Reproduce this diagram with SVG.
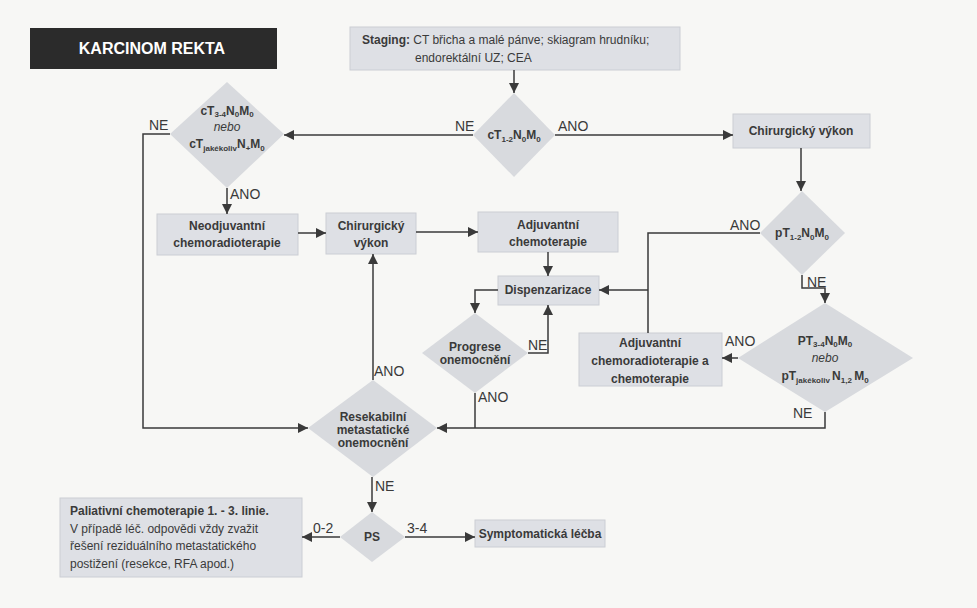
<svg xmlns="http://www.w3.org/2000/svg" width="977" height="608" viewBox="0 0 977 608">
<defs>
<marker id="ah" markerUnits="userSpaceOnUse" markerWidth="10" markerHeight="10" refX="10" refY="5" orient="auto">
<path d="M0,0 L10,5 L0,10 z" fill="#3a3a3a"/>
</marker>
<style>
.box{fill:#dee0e5;stroke:#cbced4;stroke-width:1}
.dia{fill:#d8dade}
.t{font-family:"Liberation Sans",Arial,sans-serif;font-size:12px;font-weight:bold;fill:#3a3a3a;text-anchor:middle}
.r{font-family:"Liberation Sans",Arial,sans-serif;font-size:12px;fill:#3a3a3a}
.lbl{font-family:"Liberation Sans",Arial,sans-serif;font-size:14px;fill:#3a3a3a}
.s{font-size:8px}
.i{font-style:italic;font-weight:normal}
.c{fill:none;stroke:#3a3a3a;stroke-width:1.5}
</style>
</defs>
<rect width="977" height="608" fill="#f7f7f5"/>

<g id="title">
<rect x="30" y="28" width="247" height="41" fill="#2b2b2b"/>
<text x="152" y="54" font-family="Liberation Sans,Arial,sans-serif" font-size="16" font-weight="bold" fill="#ffffff" text-anchor="middle">KARCINOM REKTA</text>
</g>

<g id="staging">
<rect class="box" x="350" y="27" width="330" height="43"/>
<text class="r" x="362" y="44"><tspan font-weight="bold">Staging:</tspan> CT břicha a malé pánve; skiagram hrudníku;</text>
<text class="r" x="415" y="62">endorektální UZ; CEA</text>
</g>

<g id="d_ct12">
<polygon class="dia" points="514,93 555,135 514,177 473,135"/>
<text class="t" x="514" y="139">cT<tspan class="s" dy="3">1-2</tspan><tspan dy="-3">N</tspan><tspan class="s" dy="3">0</tspan><tspan dy="-3">M</tspan><tspan class="s" dy="3">0</tspan></text>
</g>

<g id="d_ct34">
<polygon class="dia" points="227,82 284,134 227,188 170,134"/>
<text class="t" x="227" y="115">cT<tspan class="s" dy="2">3-4</tspan><tspan dy="-2">N</tspan><tspan class="s" dy="2">0</tspan><tspan dy="-2">M</tspan><tspan class="s" dy="2">0</tspan></text>
<text class="t i" x="227" y="131">nebo</text>
<text class="t" x="227" y="148">cT<tspan class="s" dy="3">jakékoliv</tspan><tspan dy="-3">N</tspan><tspan class="s" dy="3">+</tspan><tspan dy="-3">M</tspan><tspan class="s" dy="3">0</tspan></text>
</g>

<g id="chir1">
<rect class="box" x="733" y="114" width="137" height="34"/>
<text class="t" x="801" y="135">Chirurgický výkon</text>
</g>

<g id="neo">
<rect class="box" x="157" y="214" width="141" height="41"/>
<text class="t" x="227" y="230">Neodjuvantní</text>
<text class="t" x="227" y="247">chemoradioterapie</text>
</g>

<g id="chir2">
<rect class="box" x="326" y="213" width="90" height="41"/>
<text class="t" x="371" y="230">Chirurgický</text>
<text class="t" x="371" y="247">výkon</text>
</g>

<g id="adj">
<rect class="box" x="478" y="212" width="140" height="40"/>
<text class="t" x="548" y="229">Adjuvantní</text>
<text class="t" x="548" y="246">chemoterapie</text>
</g>

<g id="d_pt12">
<polygon class="dia" points="802,191 845,233 802,275 760,233"/>
<text class="t" x="802" y="237">pT<tspan class="s" dy="3">1-2</tspan><tspan dy="-3">N</tspan><tspan class="s" dy="3">0</tspan><tspan dy="-3">M</tspan><tspan class="s" dy="3">0</tspan></text>
</g>

<g id="disp">
<rect class="box" x="498" y="276" width="101" height="29"/>
<text class="t" x="548" y="294">Dispenzarizace</text>
</g>

<g id="d_prog">
<polygon class="dia" points="475,313 528,353 475,393 422,353"/>
<text class="t" x="475" y="351">Progrese</text>
<text class="t" x="475" y="364">onemocnění</text>
</g>

<g id="adjcrt">
<rect class="box" x="579" y="333" width="143" height="53"/>
<text class="t" x="650" y="347">Adjuvantní</text>
<text class="t" x="650" y="365">chemoradioterapie a</text>
<text class="t" x="650" y="383">chemoterapie</text>
</g>

<g id="d_pt34">
<polygon class="dia" points="825,303 913,358 825,412 738,358"/>
<text class="t" x="825" y="345">PT<tspan class="s" dy="2">3-4</tspan><tspan dy="-2">N</tspan><tspan class="s" dy="2">0</tspan><tspan dy="-2">M</tspan><tspan class="s" dy="2">0</tspan></text>
<text class="t i" x="825" y="362">nebo</text>
<text class="t" x="825" y="380">pT<tspan class="s" dy="3">jakékoliv </tspan><tspan dy="-3">N</tspan><tspan class="s" dy="3">1,2 </tspan><tspan dy="-3">M</tspan><tspan class="s" dy="3">0</tspan></text>
</g>

<g id="d_resek">
<polygon class="dia" points="373,380 437,428 373,477 308,428"/>
<text class="t" x="373" y="421">Resekabilní</text>
<text class="t" x="373" y="434">metastatické</text>
<text class="t" x="373" y="447">onemocnění</text>
</g>

<g id="d_ps">
<polygon class="dia" points="372,512 405,537 372,562 340,537"/>
<text class="t" x="372" y="541" font-weight="normal">PS</text>
</g>

<g id="pal">
<rect class="box" x="60" y="498" width="242" height="79"/>
<text class="r" x="70" y="515" font-weight="bold">Paliativní chemoterapie 1. - 3. linie.</text>
<text class="r" x="70" y="533">V případě léč. odpovědi vždy zvažit</text>
<text class="r" x="70" y="550">řešení reziduálního metastatického</text>
<text class="r" x="70" y="568">postižení (resekce, RFA apod.)</text>
</g>

<g id="sympt">
<rect class="box" x="475" y="520" width="130" height="27"/>
<text class="t" x="540" y="538">Symptomatická léčba</text>
</g>

<g id="connectors">
<path class="c" d="M514,70 V93" marker-end="url(#ah)"/>
<path class="c" d="M473,135 H284" marker-end="url(#ah)"/>
<path class="c" d="M555,135 H733" marker-end="url(#ah)"/>
<path class="c" d="M801,148 V191" marker-end="url(#ah)"/>
<path class="c" d="M170,134 H143 V428 H308" marker-end="url(#ah)"/>
<path class="c" d="M227,188 V214" marker-end="url(#ah)"/>
<path class="c" d="M298,233 H326" marker-end="url(#ah)"/>
<path class="c" d="M416,232 H478" marker-end="url(#ah)"/>
<path class="c" d="M548,252 V276" marker-end="url(#ah)"/>
<path class="c" d="M498,290 H475 V313" marker-end="url(#ah)"/>
<path class="c" d="M528,353 H548 V305" marker-end="url(#ah)"/>
<path class="c" d="M760,233 H648 V333"/>
<path class="c" d="M648,290 H599" marker-end="url(#ah)"/>
<path class="c" d="M802,275 V288 H825 V303" marker-end="url(#ah)"/>
<path class="c" d="M738,358 H722" marker-end="url(#ah)"/>
<path class="c" d="M825,412 V428 H437" marker-end="url(#ah)"/>
<path class="c" d="M475,393 V428"/>
<path class="c" d="M373,380 V254" marker-end="url(#ah)"/>
<path class="c" d="M372,477 V512" marker-end="url(#ah)"/>
<path class="c" d="M340,537 H302" marker-end="url(#ah)"/>
<path class="c" d="M405,537 H475" marker-end="url(#ah)"/>
<text class="lbl" x="455" y="131">NE</text>
<text class="lbl" x="558" y="131">ANO</text>
<text class="lbl" x="149" y="130">NE</text>
<text class="lbl" x="230" y="199">ANO</text>
<text class="lbl" x="730" y="230">ANO</text>
<text class="lbl" x="807" y="287">NE</text>
<text class="lbl" x="725" y="346">ANO</text>
<text class="lbl" x="793" y="418">NE</text>
<text class="lbl" x="528" y="350">NE</text>
<text class="lbl" x="478" y="402">ANO</text>
<text class="lbl" x="374" y="376">ANO</text>
<text class="lbl" x="375" y="491">NE</text>
<text class="lbl" x="313" y="533">0-2</text>
<text class="lbl" x="407" y="533">3-4</text>
</g>
</svg>
